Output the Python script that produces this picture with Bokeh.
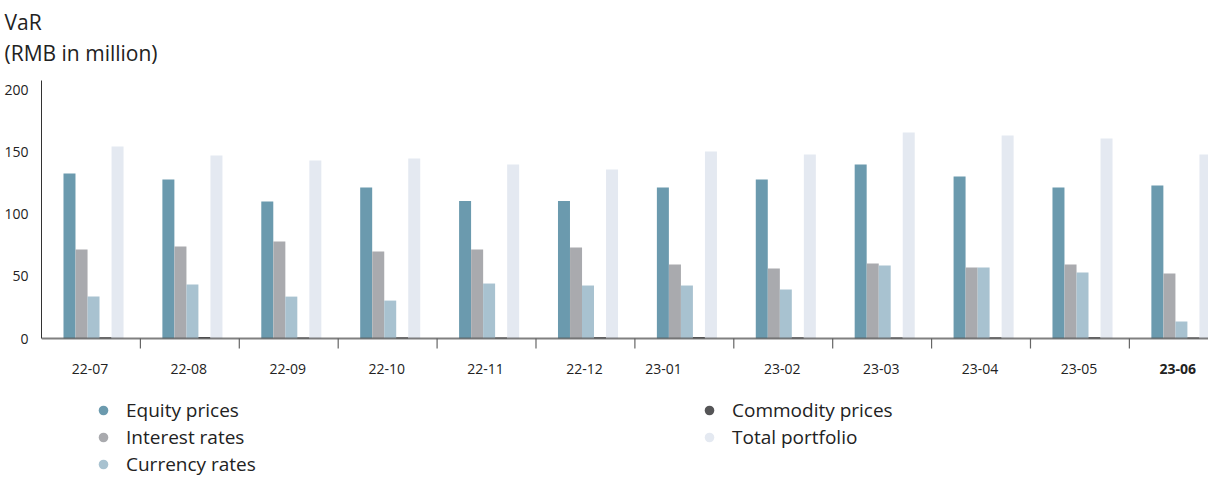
from bokeh.plotting import figure
from bokeh.models import ColumnDataSource, Range1d, FixedTicker, Legend, LegendItem, Title, Span
from bokeh.core.properties import value
from bokeh.embed import file_html
from bokeh.resources import INLINE

# ---- data (RMB in million) ----
months = ["22-07", "22-08", "22-09", "22-10", "22-11", "22-12",
          "23-01", "23-02", "23-03", "23-04", "23-05", "23-06"]
equity = [132.5, 127.7, 110.0, 121.3, 110.4, 110.4, 121.3, 127.7, 139.8, 130.1, 121.3, 122.9]
interest = [71.5, 73.9, 77.9, 69.9, 71.5, 73.1, 59.4, 56.2, 60.2, 57.0, 59.4, 52.2]
currency = [33.7, 43.4, 33.7, 30.5, 44.2, 42.6, 42.6, 39.4, 58.6, 57.0, 53.0, 13.7]
commodity = [1.0, 1.2, 0.9, 1.0, 0.9, 1.1, 1.2, 1.0, 0.9, 1.0, 1.1, 0.9]
total = [154.2, 147.0, 143.0, 144.6, 139.8, 135.7, 150.2, 147.8, 165.5, 163.1, 160.6, 147.8]
yticks = [0, 50, 100, 150, 200]

series_names = ["Equity prices", "Interest rates", "Currency rates", "Commodity prices", "Total portfolio"]
series_values = [equity, interest, currency, commodity, total]
bar_colors = ["#6b9aae", "#a9aaae", "#a8c2d0", "#4a4a4c", "#e4e9f1"]
legend_colors = ["#6b9aae", "#a9aaae", "#a8c2d0", "#555557", "#e4e9f1"]

# ---- layout/style constants ----
FONT = "Open Sans"
BAR_W = 0.1213
BAR_OFFSETS = [0.283, 0.405, 0.526, 0.647, 0.769]
LABEL_NUDGE = {"23-01": -0.2}
highlight = "23-06"

p = figure(width=1208, height=477, output_backend="svg", toolbar_location=None,
           x_range=Range1d(0, 11.8), y_range=Range1d(-111.6, 213.7),
           x_axis_location=None, min_border_left=41, min_border_right=0,
           min_border_bottom=0, min_border_top=0)
p.outline_line_color = None
p.grid.visible = False
p.background_fill_color = "white"
p.border_fill_color = "white"

idx = list(range(len(months)))
for name, vals, col, off in zip(series_names, series_values, bar_colors, BAR_OFFSETS):
    src = ColumnDataSource(dict(x=[i + off for i in idx], top=vals))
    p.vbar(x="x", top="top", bottom=0, width=BAR_W, source=src,
           fill_color=col, line_color=None)

# x baseline and separators between months
p.add_layout(Span(location=0, dimension="width", line_color="#555555",
                  line_alpha=0.75, line_width=2))
bounds = [i for i in range(1, len(months))]
p.segment(x0=bounds, y0=[0] * len(bounds), x1=bounds, y1=[-8] * len(bounds),
          line_color="#666666", line_width=1.2)

# month labels
lab_src = ColumnDataSource(dict(
    x=[i + 0.49 + LABEL_NUDGE.get(m, 0) for i, m in zip(idx, months)],
    y=[-24.5] * len(months),
    text=months,
    style=["bold" if m == highlight else "normal" for m in months],
))
p.text(x="x", y="y", text="text", source=lab_src, text_align="center",
       text_baseline="middle", text_font=value(FONT), text_font_size="14px",
       text_font_style="style", text_color="#222222")

# y axis
ya = p.yaxis[0]
ya.ticker = FixedTicker(ticks=yticks)
ya.bounds = (0, 207)
ya.major_tick_line_color = None
ya.minor_tick_line_color = None
ya.major_tick_out = 0
ya.major_tick_in = 0
ya.minor_tick_out = 0
ya.minor_tick_in = 0
ya.axis_line_color = "#333333"
ya.axis_line_width = 1
ya.major_label_standoff = 13
ya.major_label_text_font = FONT
ya.major_label_text_font_size = "14px"
ya.major_label_text_color = "#222222"

# legend with circle markers (proxy renderers carry no visible data)
nan = float("nan")
items = []
for name, col in zip(series_names, legend_colors):
    r = p.scatter(x=[nan], y=[nan], marker="circle", size=10, fill_color=col, line_color=None)
    items.append(LegendItem(label=name, renderers=[r]))
legend = Legend(items=items, nrows=3, location=(50, 0),
                glyph_width=24, glyph_height=24, label_standoff=11, spacing=1,
                label_width=570, padding=0, margin=0,
                border_line_color=None, background_fill_alpha=0,
                label_text_font=FONT, label_text_font_size="19px",
                label_text_color="#222222")
p.add_layout(legend)

# two-line title
p.add_layout(Title(text="VaR\n(RMB in million)", align="left", offset=-37,
                   text_font=FONT, text_font_size="21px", text_font_style="normal",
                   text_line_height=1.1, text_color="#222222", standoff=11), "above")

open("out.html", "w").write(file_html(p, INLINE))
